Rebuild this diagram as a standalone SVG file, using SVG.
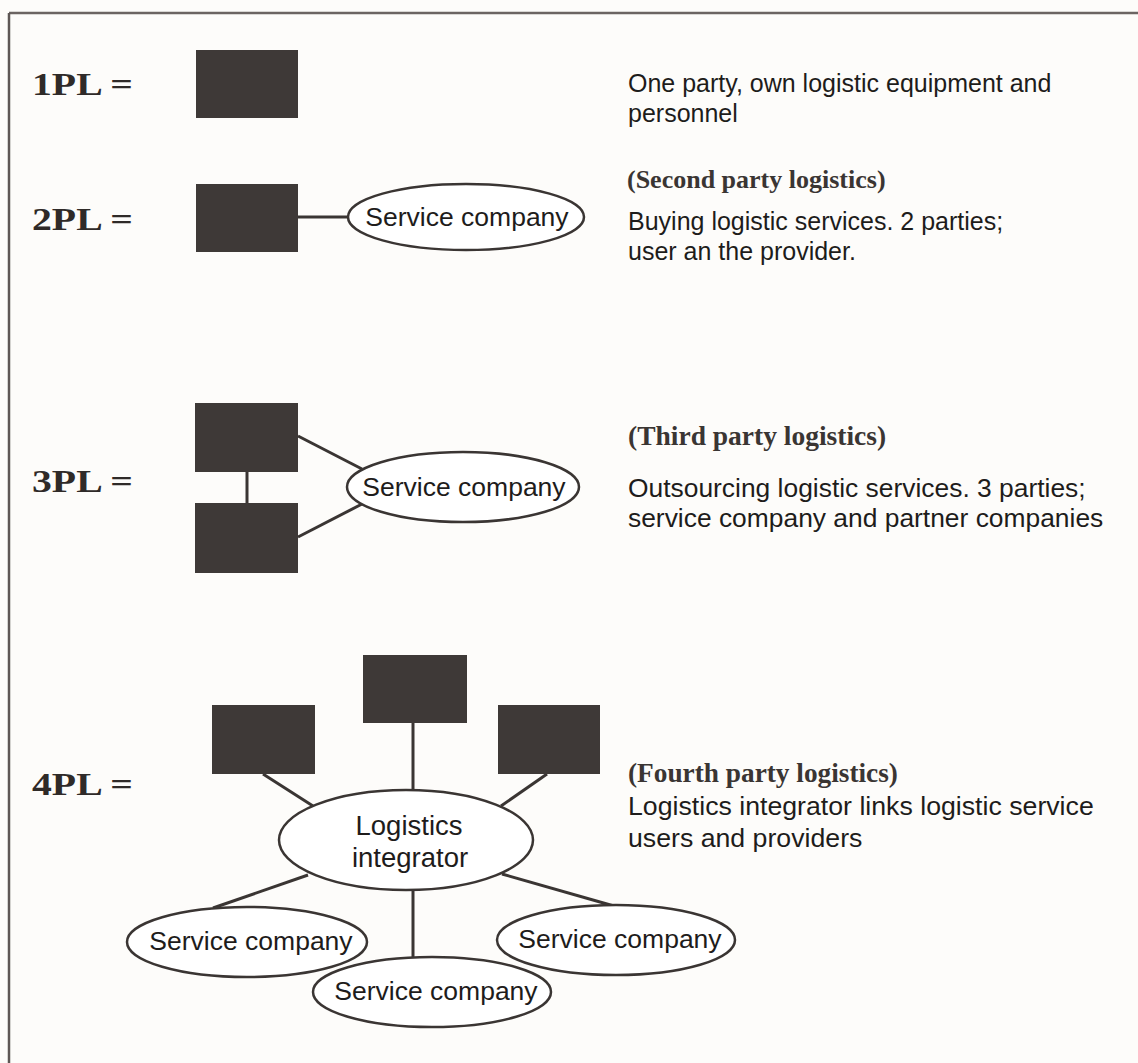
<svg xmlns="http://www.w3.org/2000/svg" width="1138" height="1063" viewBox="0 0 1138 1063">
<style>
.box{fill:#3e3937;}
.ell{fill:#fff;stroke:#3a3533;stroke-width:2.5;}
.ln{stroke:#3a3533;stroke-width:3;fill:none;}
.big{font-family:"Liberation Serif",serif;font-weight:bold;font-size:32px;fill:#2f2a28;}
.sub{font-family:"Liberation Serif",serif;font-weight:bold;font-size:26px;fill:#3a3533;}
.txt{font-family:"Liberation Sans",Arial,sans-serif;font-size:25px;fill:#1e1c1b;}
.lbl{font-family:"Liberation Sans",Arial,sans-serif;font-size:26.5px;fill:#1e1c1b;text-anchor:middle;}
</style>
<rect x="0" y="0" width="1138" height="1063" fill="#fdfcfa"/>
<g id="frame">
<line x1="9" y1="13" x2="1138" y2="13" stroke="#6b6462" stroke-width="2.5"/>
<line x1="9" y1="13" x2="9" y2="1063" stroke="#5e5755" stroke-width="2.5"/>
</g>
<g id="connectors">
<line class="ln" x1="298" y1="217" x2="348" y2="217"/>
<line class="ln" x1="298" y1="436" x2="362" y2="469"/>
<line class="ln" x1="298" y1="537" x2="362" y2="504"/>
<line class="ln" x1="247" y1="472" x2="247" y2="503"/>
<line class="ln" x1="263" y1="774" x2="313" y2="806"/>
<line class="ln" x1="413" y1="723" x2="413" y2="790"/>
<line class="ln" x1="547" y1="774" x2="501" y2="806"/>
<line class="ln" x1="308" y1="875" x2="213" y2="908"/>
<line class="ln" x1="413" y1="890" x2="413" y2="958"/>
<line class="ln" x1="502" y1="874" x2="614" y2="906"/>
</g>
<g id="row-1pl">
<text class="big" x="32" y="95" textLength="101" lengthAdjust="spacingAndGlyphs">1PL =</text>
<rect class="box" x="196" y="50" width="102" height="68"/>
<text class="txt" x="628" y="92">One party, own logistic equipment and</text>
<text class="txt" x="628" y="122">personnel</text>
</g>
<g id="row-2pl">
<text class="big" x="32" y="230" textLength="101" lengthAdjust="spacingAndGlyphs">2PL =</text>
<rect class="box" x="196" y="184" width="102" height="68"/>
<g id="sc-2pl">
<ellipse class="ell" cx="466" cy="217" rx="118" ry="33"/>
<text class="lbl" x="467" y="226">Service company</text>
</g>
<text class="sub" x="627" y="188">(Second party logistics)</text>
<text class="txt" x="628" y="230">Buying logistic services. 2 parties;</text>
<text class="txt" x="628" y="260">user an the provider.</text>
</g>
<g id="row-3pl">
<text class="big" x="32" y="492" textLength="101" lengthAdjust="spacingAndGlyphs">3PL =</text>
<rect class="box" x="195" y="403" width="103" height="69"/>
<rect class="box" x="195" y="503" width="103" height="70"/>
<g id="sc-3pl">
<ellipse class="ell" cx="463" cy="487" rx="116" ry="35"/>
<text class="lbl" x="464" y="496">Service company</text>
</g>
<text class="sub" x="628" y="445" style="font-size:27.5px">(Third party logistics)</text>
<text class="txt" x="628" y="497" style="font-size:26.4px">Outsourcing logistic services. 3 parties;</text>
<text class="txt" x="628" y="527" style="font-size:26.4px">service company and partner companies</text>
</g>
<g id="row-4pl">
<text class="big" x="32" y="795" textLength="101" lengthAdjust="spacingAndGlyphs">4PL =</text>
<rect class="box" x="363" y="655" width="104" height="68"/>
<rect class="box" x="212" y="705" width="103" height="69"/>
<rect class="box" x="498" y="705" width="102" height="69"/>
<g id="integrator">
<ellipse class="ell" cx="406" cy="840" rx="127" ry="50"/>
<text class="lbl" x="409" y="835" style="font-size:27.5px">Logistics</text>
<text class="lbl" x="410" y="867" style="font-size:27.5px">integrator</text>
</g>
<g id="sc-4pl-left">
<ellipse class="ell" cx="247" cy="942" rx="120" ry="35"/>
<text class="lbl" x="251" y="950">Service company</text>
</g>
<g id="sc-4pl-mid">
<ellipse class="ell" cx="432" cy="992" rx="119" ry="35"/>
<text class="lbl" x="436" y="1000">Service company</text>
</g>
<g id="sc-4pl-right">
<ellipse class="ell" cx="616" cy="940" rx="119" ry="35"/>
<text class="lbl" x="620" y="948">Service company</text>
</g>
<text class="sub" x="628" y="782" style="font-size:27.3px">(Fourth party logistics)</text>
<text class="txt" x="628" y="815" style="font-size:26.7px">Logistics integrator links logistic service</text>
<text class="txt" x="628" y="847" style="font-size:26.7px">users and providers</text>
</g>
</svg>
